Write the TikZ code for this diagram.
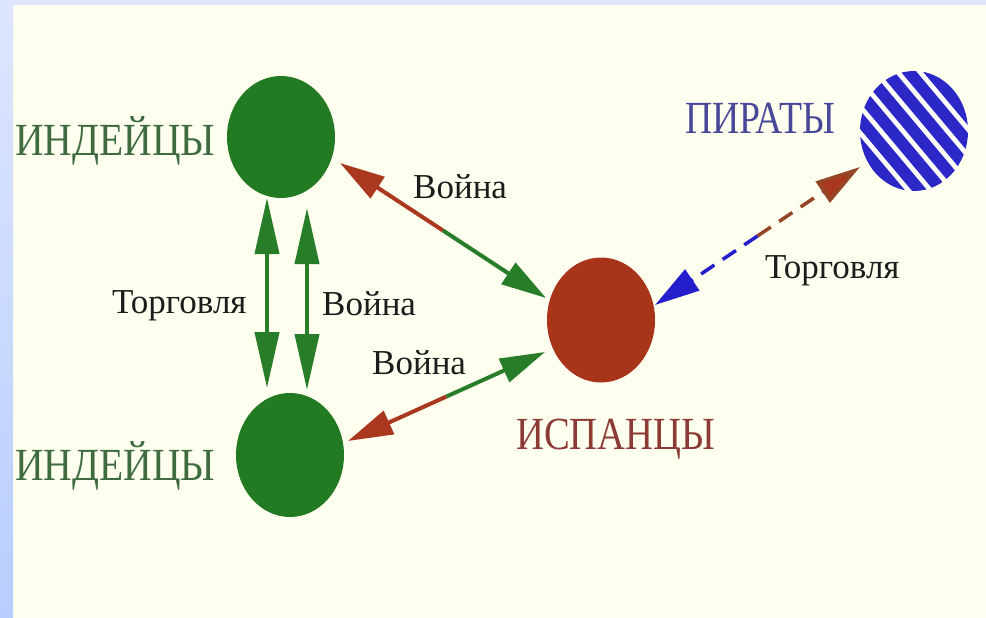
\documentclass[tikz,border=0pt]{standalone}
\usepackage{graphicx}
\usepackage{fontspec}
\setmainfont{Liberation Serif}
\usetikzlibrary{arrows.meta,shapes.geometric,calc}
\definecolor{cream}{RGB}{255,255,240}
\definecolor{stripA}{RGB}{222,230,255}
\definecolor{stripB}{RGB}{184,206,255}
\definecolor{indgreen}{RGB}{34,122,34}
\definecolor{arrgreen}{RGB}{40,125,40}
\definecolor{spred}{RGB}{168,52,26}
\definecolor{arrred}{RGB}{170,56,30}
\definecolor{pirblue}{RGB}{44,40,200}
\definecolor{dashblue}{RGB}{36,30,205}
\definecolor{dashbrown}{RGB}{150,70,40}
\definecolor{labgreen}{RGB}{62,108,62}
\definecolor{labred}{RGB}{140,58,52}
\definecolor{labblue}{RGB}{72,72,152}
\definecolor{labblack}{RGB}{28,28,28}
\begin{document}
\begin{tikzpicture}[x=1pt,y=-1pt,
  blob/.style={ellipse, inner sep=0, minimum width=108pt, draw=none},
  lab/.style={anchor=base west, inner sep=0, text=labblack, font=\fontsize{35}{40}\selectfont},
  biglab/.style={anchor=base west, inner sep=0, font=\fontsize{46}{50}\selectfont},
  headD/.style={-{Triangle[length=45pt,width=25pt]}},
  headV/.style={{Triangle[length=56pt,width=24pt]}-{Triangle[length=56pt,width=24pt]}},
  shaft/.style={line width=4pt},
  dshaft/.style={line width=3.5pt, dash pattern=on 16pt off 10pt}
]
\useasboundingbox (0,0) rectangle (986,618);
\fill[cream] (0,0) rectangle (986,618);
\shade[top color=stripA, bottom color=stripB] (0,0) rectangle (13,618);
\fill[stripA] (0,0) rectangle (986,5);

% circles
\node[blob, fill=indgreen, minimum height=122pt] (i1) at (281,137) {};
\node[blob, fill=indgreen, minimum height=124pt] (i2) at (290,455) {};
\node[blob, fill=spred, minimum height=125pt] (sp) at (601,320) {};
\node[blob, fill=white, minimum height=120pt] (pir) at (914,131) {};
\begin{scope}
  \clip (pir.center) ellipse [x radius=54pt, y radius=60pt];
  \foreach \k in {-7,...,7}{
    \draw[pirblue, line width=12pt]
      ($(pir.center)+(\k*17*0.766-110*0.643, -\k*17*0.643-110*0.766)$) --
      ($(pir.center)+(\k*17*0.766+110*0.643, -\k*17*0.643+110*0.766)$);
  }
\end{scope}

% labels
\node[biglab, text=labgreen] (l1) at (15,155) {\scalebox{0.86}[1]{ИНДЕЙЦЫ}};
\node[biglab, text=labgreen] (l2) at (15,480) {\scalebox{0.86}[1]{ИНДЕЙЦЫ}};
\node[biglab, text=labred] (l3) at (516,449) {\scalebox{0.84}[1]{ИСПАНЦЫ}};
\node[biglab, text=labblue] (l4) at (685,133) {\scalebox{0.82}[1]{ПИРАТЫ}};
\node[lab] (w1) at (413,198) {Война};
\node[lab] (t1) at (112,313) {Торговля};
\node[lab] (w2) at (322,315) {Война};
\node[lab] (w3) at (372,374) {Война};
\node[lab] (t2) at (765,278) {Торговля};

% end points on the circles
\coordinate (a1) at ([shift={(59,26)}]i1.center);
\coordinate (b1) at ([shift={(-55,-22)}]sp.center);
\coordinate (a2) at ([shift={(58,-14)}]i2.center);
\coordinate (b2) at ([shift={(-56,32)}]sp.center);
\coordinate (a3) at ([shift={(54,-15)}]sp.center);
\coordinate (b3) at ([shift={(-54,36)}]pir.center);
\coordinate (m1) at ($(a1)!0.5!(b1)$);
\coordinate (m2) at ($(a2)!0.5!(b2)$);
\coordinate (m3) at ($(a3)!0.5!(b3)$);

% war: upper indians - spaniards
\draw[shaft, arrred, headD] (m1) -- (a1);
\draw[shaft, arrgreen, headD] (m1) -- (b1);
% war: lower indians - spaniards
\draw[shaft, arrred, headD] (m2) -- (a2);
\draw[shaft, arrgreen, headD] (m2) -- (b2);
% trade: pirates - spaniards (dashed)
\draw[dshaft, dashblue, headD] (m3) -- (a3);
\draw[dshaft, dashbrown, -{Triangle[length=45pt,width=25pt,fill=arrred]}] (m3) -- (b3);

% vertical arrows between indians
\draw[shaft, arrgreen, headV] ([shift={(-14,61)}]i1.center) -- ([shift={(-23,-67)}]i2.center);
\draw[shaft, arrgreen, headV] ([shift={(26,71)}]i1.center) -- ([shift={(17,-65)}]i2.center);
\end{tikzpicture}
\end{document}
